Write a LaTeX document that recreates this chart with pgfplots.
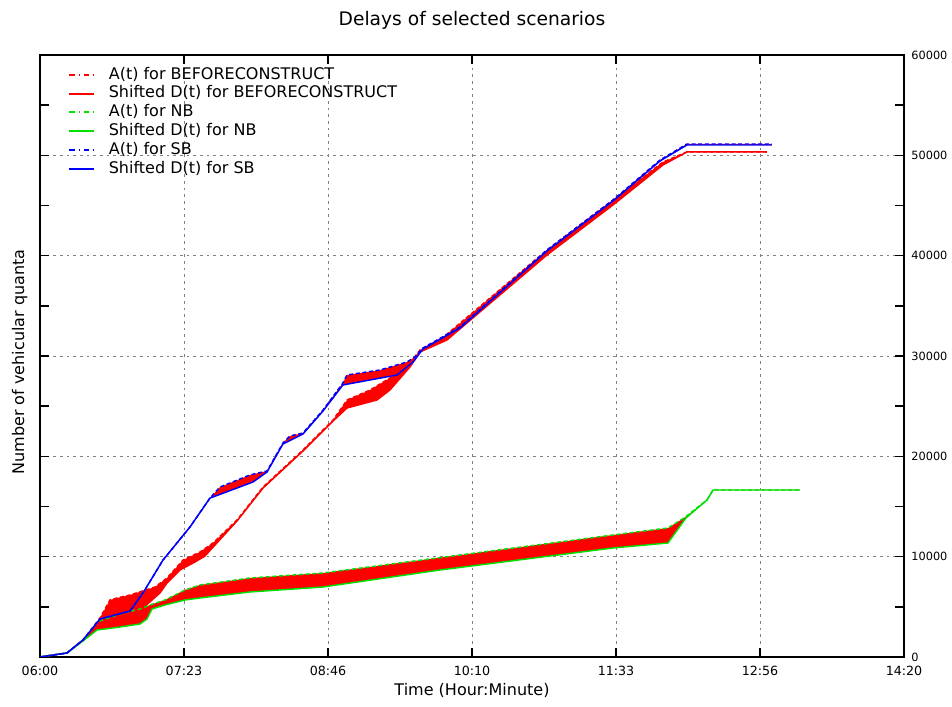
\documentclass[border=0pt]{standalone}
\usepackage{fontspec}
\setmainfont{DejaVu Sans}
\usepackage{pgfplots}
\pgfplotsset{compat=1.18}
\usepackage{pgfplotstable}
\usepgfplotslibrary{fillbetween}

% x: minutes after 06:00, y: cumulative vehicular quanta
\pgfplotstableread{
x y
0 0
15.6 399
24.9 1694
34.7 3887
40.5 5681
44.6 5881
52.1 6180
66.6 6977
73.5 7874
82.8 9668
92.6 10465
100.1 11362
114.0 13655
129.1 16944
152.2 20632
169.6 23622
177.7 25615
191.0 26612
202.5 27808
212.4 28904
219.9 30599
231.5 31595
293.4 40565
331.6 45549
360.5 49336
374.4 50333
420.7 50333
}\bcA
\pgfplotstableread{
x y
0 0
15.6 399
24.9 1694
34.7 3688
50.3 4186
59.6 4884
69.4 6379
73.5 7376
81.0 8671
89.7 9469
95.5 10067
101.3 11163
114.0 13555
129.1 16844
152.2 20532
169.6 23522
177.7 24818
195.0 25615
202.5 26612
214.1 28904
219.9 30399
235.5 31595
293.4 40067
331.6 45050
360.5 49037
374.4 50333
420.7 50333
}\bcD
\pgfplotstableread{
x y
0 0
15.6 399
24.9 1694
33.0 3488
46.3 4286
57.9 4784
63.7 5183
72.3 5681
83.9 6678
92.6 7176
121.5 7874
163.8 8372
243.1 10166
331.6 12160
363.4 12857
372.7 13854
386.0 15648
389.5 16645
439.8 16645
}\nbA
\pgfplotstableread{
x y
0 0
15.6 399
24.9 1595
33.0 2691
46.3 2990
57.9 3289
61.9 3787
64.8 4784
72.3 5183
83.9 5681
92.6 5881
121.5 6479
163.8 6977
231.5 8671
331.6 10864
363.4 11362
373.8 13854
386.0 15648
389.5 16645
439.8 16645
}\nbD
\pgfplotstableread{
x y
0 0
15.6 399
24.9 1694
34.7 3787
52.1 4585
59.6 6379
71.2 9668
86.8 12957
98.4 15848
104.2 16944
121.5 18140
126.2 18339
131.4 18539
140.6 21329
144.7 22027
152.2 22326
163.8 24618
175.3 27309
177.7 28107
196.8 28605
212.4 29403
217.0 29901
221.6 30798
243.1 32891
293.4 40565
331.6 45549
358.8 49535
374.4 51130
423.6 51130
}\sbA
\pgfplotstableread{
x y
0 0
15.6 399
24.9 1694
34.7 3787
52.1 4585
59.6 6379
71.2 9668
86.8 12957
98.4 15848
100.1 15947
123.3 17442
131.4 18439
140.6 21229
152.2 22226
163.8 24519
175.3 27110
206.6 28107
215.9 29403
221.6 30698
243.1 32791
293.4 40466
331.6 45450
358.8 49435
374.4 51030
423.6 51030
}\sbD

\definecolor{cgreen}{RGB}{0,225,0}

\begin{document}
\begin{tikzpicture}
\begin{axis}[
  scale only axis, width=648pt, height=451.5pt,
  xmin=0, xmax=500, ymin=0, ymax=60000,
  xtick={0,83.3333,166.6667,250,333.3333,416.6667,500},
  xticklabels={06:00,07:23,08:46,10:10,11:33,12:56,14:20},
  ytick={0,10000,20000,30000,40000,50000,60000},
  yticklabels={0,10000,20000,30000,40000,50000,60000},
  scaled y ticks=false, scaled x ticks=false,
  minor x tick num=1, minor y tick num=1,
  yticklabel pos=right, ytick pos=both, xtick pos=both,
  tick align=inside,
  major tick length=7pt, minor tick length=7pt,
  every tick/.style={black, line width=1.1pt},
  axis line style={line width=1.2pt},
  xmajorgrids, ymajorgrids,
  major grid style={gray, dash pattern=on 2pt off 3pt, line width=0.5pt},
  xticklabel style={font=\fontsize{9.5}{11}\selectfont, yshift=-3pt},
  yticklabel style={font=\fontsize{8.5}{10}\selectfont, xshift=2pt},
  title={Delays of selected scenarios},
  title style={font=\fontsize{14}{16}\selectfont, yshift=9.5pt},
  xlabel={Time (Hour:Minute)},
  ylabel={Number of vehicular quanta},
  every axis x label/.style={at={(axis description cs:0.5,0)}, anchor=base, yshift=-29pt, font=\fontsize{12}{14}\selectfont},
  every axis y label/.style={at={(axis description cs:-0.0185,0.49)}, rotate=90, anchor=base, font=\fontsize{12}{14}\selectfont},
  legend cell align=left,
  legend style={at={(axis description cs:0.028,0.987)}, anchor=north west, draw=none, fill=none,
    font=\fontsize{12}{13}\selectfont, row sep=0.6pt, column sep=9pt,
    nodes={inner sep=1pt, text height=9pt, text depth=2.5pt}},
  legend image code/.code={\draw[#1] (0cm,0cm) -- (0.66cm,0cm);},
  no markers,
]
\addplot[draw=none, name path=bcA, forget plot] table {\bcA};
\addplot[draw=none, name path=bcD, forget plot] table {\bcD};
\addplot[draw=none, name path=nbA, forget plot] table {\nbA};
\addplot[draw=none, name path=nbD, forget plot] table {\nbD};
\addplot[draw=none, name path=sbA, forget plot] table {\sbA};
\addplot[draw=none, name path=sbD, forget plot] table {\sbD};
\addplot[red, draw=none, forget plot] fill between[of=bcA and bcD];
\addplot[red, draw=none, forget plot] fill between[of=nbA and nbD];
\addplot[red, draw=none, forget plot] fill between[of=sbA and sbD];

\addplot[red, line width=1.1pt, dash pattern=on 3pt off 2pt, forget plot] table {\bcA};
\addplot[red, line width=1.1pt, forget plot] table {\bcD};
\addplot[cgreen, line width=1.1pt, dash pattern=on 3pt off 2pt, forget plot] table {\nbA};
\addplot[cgreen, line width=1.1pt, forget plot] table {\nbD};
\addplot[blue, line width=1.1pt, dash pattern=on 3pt off 2pt, forget plot] table {\sbA};
\addplot[blue, line width=1.1pt, forget plot] table {\sbD};

\addlegendimage{draw=red, line width=1.5pt, dash pattern=on 4pt off 3pt on 1pt off 3pt}
\addlegendentry{A(t) for BEFORECONSTRUCT}
\addlegendimage{draw=red, line width=1.5pt, solid}
\addlegendentry{Shifted D(t) for BEFORECONSTRUCT}
\addlegendimage{draw=cgreen, line width=1.5pt, dash pattern=on 4pt off 3pt on 1pt off 3pt}
\addlegendentry{A(t) for NB}
\addlegendimage{draw=cgreen, line width=1.5pt, solid}
\addlegendentry{Shifted D(t) for NB}
\addlegendimage{draw=blue, line width=1.5pt, dash pattern=on 4pt off 3pt on 1pt off 3pt}
\addlegendentry{A(t) for SB}
\addlegendimage{draw=blue, line width=1.5pt, solid}
\addlegendentry{Shifted D(t) for SB}
\end{axis}
\pgfresetboundingbox
\path ([shift={(-30pt,-37.5pt)}]current axis.south west) rectangle ([shift={(36pt,41.25pt)}]current axis.north east);
\end{tikzpicture}
\end{document}
